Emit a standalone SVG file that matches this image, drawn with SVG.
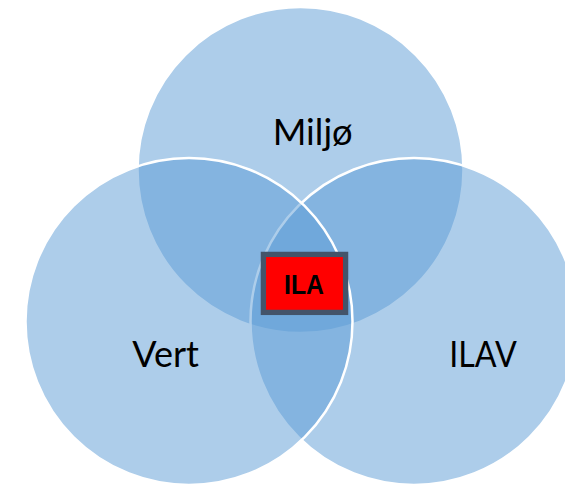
<svg xmlns="http://www.w3.org/2000/svg" width="565" height="487" viewBox="0 0 565 487">
<style>
.c{fill:#5B9BD5;fill-opacity:0.5;stroke:#ffffff;stroke-width:2.5}
.lbl{font-family:Lato,"Liberation Sans",sans-serif;font-size:36px;fill:#000000}
.ila{font-family:"Liberation Sans",Arial,sans-serif;font-size:27px;font-weight:bold;fill:#000000}
</style>
<rect width="565" height="487" fill="#ffffff"/>
<g id="miljo">
<circle class="c" cx="300.5" cy="170" r="163"/>
<text class="lbl" x="272.7" y="145" textLength="80" lengthAdjust="spacingAndGlyphs">Miljø</text>
</g>
<g id="ilav">
<circle class="c" cx="414" cy="321.5" r="163.5"/>
<text class="lbl" x="449.3" y="366.7" textLength="67.4" lengthAdjust="spacingAndGlyphs">ILAV</text>
</g>
<g id="vert">
<circle class="c" cx="189" cy="321.5" r="163.5"/>
<text class="lbl" x="132.3" y="366.7" textLength="66.7" lengthAdjust="spacingAndGlyphs">Vert</text>
</g>
<g id="connectors"/>
<g id="ila">
<rect x="263.4" y="254.4" width="82.2" height="58" fill="#ff0000" stroke="#44546A" stroke-width="5.3"/>
<text class="ila" x="284" y="293.5" textLength="40" lengthAdjust="spacingAndGlyphs">ILA</text>
</g>
</svg>
